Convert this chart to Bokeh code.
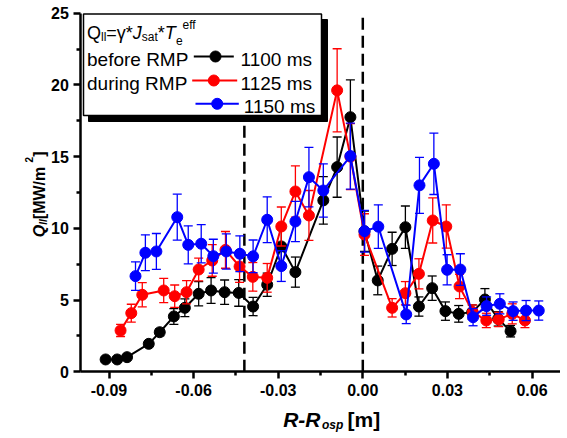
import math
from bokeh.plotting import figure
from bokeh.models import Label, FixedTicker, CustomJSTickFormatter
from bokeh.embed import file_html
from bokeh.resources import INLINE

# ---------------- data ----------------
black_x = [-0.0912, -0.0871, -0.0836, -0.0759, -0.0720, -0.0670, -0.0631, -0.0582, -0.0538, -0.0490,
           -0.0440, -0.0389, -0.0339, -0.0289, -0.0239, -0.0140, -0.0091, -0.0044, 0.0006, 0.0053,
           0.0104, 0.0151, 0.0199, 0.0246, 0.0293, 0.0340, 0.0388, 0.0433, 0.0480, 0.0524]
black_y = [0.86, 0.86, 1.02, 1.95, 2.76, 3.86, 4.46, 5.44, 5.67, 5.55,
           5.50, 4.55, 6.07, 8.74, 6.95, 11.95, 14.27, 17.75, 9.80, 6.37,
           8.57, 10.08, 4.55, 5.83, 4.23, 4.04, 4.16, 5.04, 3.69, 2.83]
black_err = [0.1, 0.1, 0.1, 0.2, 0.25, 0.55, 0.62, 0.85, 0.9, 0.85,
             0.93, 0.64, 0.81, 1.22, 1.05, 1.66, 2.1, 2.6, 1.4, 1.0,
             1.16, 1.48, 0.67, 0.85, 0.64, 0.58, 0.5, 0.76, 0.5, 0.4]

red_x = [-0.0859, -0.0821, -0.0782, -0.0706, -0.0667, -0.0625, -0.0582, -0.0534, -0.0487, -0.0437,
         -0.0390, -0.0339, -0.0289, -0.0239, -0.0191, -0.0091, -0.0044, 0.0006, 0.0104, 0.0151,
         0.0199, 0.0248, 0.0296, 0.0343, 0.0390, 0.0438, 0.0482, 0.0530, 0.0575]
red_y = [2.88, 4.09, 5.37, 5.67, 5.27, 5.55, 7.13, 7.76, 8.50, 7.34,
         6.62, 6.55, 10.13, 12.57, 10.90, 19.62, 15.00, 9.57, 4.46, 5.48,
         6.83, 10.55, 10.13, 5.95, 4.16, 3.58, 3.65, 4.04, 3.58]
red_err = [0.42, 0.62, 0.84, 0.85, 0.78, 0.81, 0.79, 1.1, 1.28, 1.1,
           1.0, 1.0, 1.36, 1.78, 1.74, 2.9, 2.3, 1.45, 0.64, 0.81,
           1.05, 1.57, 1.51, 0.85, 0.5, 0.5, 0.5, 0.7, 0.5]

blue_x = [-0.0806, -0.0771, -0.0732, -0.0658, -0.0619, -0.0573, -0.0530, -0.0484, -0.0436, -0.0389,
          -0.0339, -0.0289, -0.0239, -0.0191, -0.0140, -0.0044, 0.0006, 0.0055, 0.0154, 0.0201,
          0.0252, 0.0299, 0.0346, 0.0391, 0.0439, 0.0486, 0.0533, 0.0579, 0.0624]
blue_y = [6.67, 8.30, 8.39, 10.78, 8.85, 8.93, 8.06, 8.39, 8.23, 8.05,
          10.60, 7.37, 10.48, 13.57, 12.64, 15.04, 9.80, 10.12, 4.00, 13.00,
          14.50, 7.11, 7.13, 3.81, 4.58, 4.74, 4.23, 4.27, 4.27]
blue_err = [1.0, 1.25, 1.25, 1.6, 1.33, 1.33, 1.18, 1.23, 1.25, 1.14,
            1.6, 1.07, 1.4, 2.07, 1.86, 2.3, 1.45, 1.52, 0.64, 1.95,
            2.14, 1.05, 1.1, 0.6, 0.64, 0.7, 0.64, 0.7, 0.67]

dash_x = [-0.042, 0.0]

x_tick_values = [-0.09, -0.06, -0.03, 0.0, 0.03, 0.06]
x_tick_labels = ["-0.09", "-0.06", "-0.03", "0.00", "0.03", "0.06"]
x_minor = [-0.075, -0.045, -0.015, 0.015, 0.045]
y_tick_values = [0, 5, 10, 15, 20, 25]
y_tick_labels = ["0", "5", "10", "15", "20", "25"]
y_minor = [2.5, 7.5, 12.5, 17.5, 22.5]

series = [
    ("black", black_x, black_y, black_err, "before RMP", "1100 ms"),
    ("red", red_x, red_y, red_err, "during RMP", "1125 ms"),
    ("blue", blue_x, blue_y, blue_err, "", "1150 ms"),
]

# ---------------- geometry (page pixels) ----------------
W, H = 560, 433
X0, X1, Y0, Y1 = -0.1, 0.07, 0.0, 25.0      # axis extents
PX_X0, PX_PER_X = 362.3, 2820.0             # page x of x=0, pixels per unit
PX_Y0, PX_PER_Y = 371.3, 14.344             # page y of y=0, pixels per unit
FONT = "Liberation Sans"
BASE_FIX = 3.0                              # labels render slightly below their baseline


def dx(px):
    return (px - PX_X0) / PX_PER_X


def dy(py):
    return (PX_Y0 - py) / PX_PER_Y


p = figure(width=W, height=H, x_range=(dx(0), dx(W)), y_range=(dy(H), dy(0)),
           output_backend="svg", toolbar_location=None, min_border=0)
p.min_border_left = p.min_border_right = p.min_border_top = p.min_border_bottom = 0
p.title.visible = False
p.outline_line_color = None
p.xgrid.visible = False
p.ygrid.visible = False
p.background_fill_color = "white"
p.border_fill_color = "white"

p.xaxis[0].fixed_location = Y0
p.xaxis[0].bounds = (X0, X1)
p.yaxis[0].fixed_location = X0
p.yaxis[0].bounds = (Y0, Y1)

for ax, vals, labs, minor in ((p.xaxis[0], x_tick_values, x_tick_labels, x_minor),
                              (p.yaxis[0], y_tick_values, y_tick_labels, y_minor)):
    ax.ticker = FixedTicker(ticks=vals, minor_ticks=minor)
    ax.formatter = CustomJSTickFormatter(args=dict(tvals=vals, tlabs=labs), code="""
        for (let i = 0; i < tvals.length; i++) {
            if (Math.abs(tvals[i] - tick) < 1e-9) return tlabs[i];
        }
        return "";
    """)
    ax.axis_line_width = 2.5
    ax.axis_line_color = "black"
    ax.major_tick_line_width = 2.5
    ax.minor_tick_line_width = 2.5
    ax.major_tick_out = 7
    ax.major_tick_in = 0
    ax.minor_tick_out = 4
    ax.minor_tick_in = 0
    ax.major_label_text_font = FONT
    ax.major_label_text_font_style = "bold"
    ax.major_label_text_font_size = "16px"
    ax.major_label_text_color = "black"
    ax.major_label_standoff = 5

# dashed separatrix lines
p.segment(x0=dash_x, y0=[Y0] * len(dash_x), x1=dash_x, y1=[Y1] * len(dash_x),
          line_color="black", line_width=2.5, line_dash="12 6")

# legend box with drop shadow
p.quad(left=[dx(88)], right=[dx(327)], top=[dy(19)], bottom=[dy(121)],
       fill_color="black", line_color="black")
p.quad(left=[dx(83)], right=[dx(321)], top=[dy(13.5)], bottom=[dy(115)],
       fill_color="white", line_color="black", line_width=1.5)

# data series
for color, xs, ys, es, _, _ in series:
    up = [y + e for y, e in zip(ys, es)]
    lo = [y - e for y, e in zip(ys, es)]
    p.segment(x0=xs, y0=lo, x1=xs, y1=up, line_color=color, line_width=1.3)
    p.scatter(xs, up, marker="dash", size=9, line_color=color, line_width=1.3)
    p.scatter(xs, lo, marker="dash", size=9, line_color=color, line_width=1.3)
    p.line(xs, ys, line_color=color, line_width=2)
    p.scatter(xs, ys, marker="circle", size=11, fill_color=color, line_color=color)


def lab(text, px, py, size, style="normal", angle=0.0):
    if angle:
        px -= BASE_FIX
    else:
        py -= BASE_FIX
    p.add_layout(Label(x=dx(px), y=dy(py), text=text, text_font=FONT,
                       text_font_size=f"{size}px", text_font_style=style,
                       text_color="black", text_align="left",
                       text_baseline="alphabetic", angle=angle))


# legend formula line
lab("Q", 86.5, 35, 18)
lab("ll", 100.5, 39.5, 12)
lab("=\u03b3*", 105.8, 35, 18)
lab("J", 132.3, 35, 18, "italic")
lab("sat", 141.3, 39.5, 12)
lab("*", 157.3, 35, 18)
lab("T", 164.3, 35, 18, "italic")
lab("e", 175.5, 42.5, 12)
lab("eff", 182, 27.5, 12)

# legend entries
rows = [(62.0, 56.0, 193.3, 233.3, 215.0, 240.0),
        (85.5, 80.0, 191.7, 236.7, 213.3, 240.0),
        (109.0, 103.3, 195.0, 238.3, 216.7, 243.3)]
for (color, _, _, _, left_txt, right_txt), (base, ly, x0, x1, mx, tx) in zip(series, rows):
    if left_txt:
        lab(left_txt, 86.5, base, 19)
    p.line([dx(x0), dx(x1)], [dy(ly), dy(ly)], line_color=color, line_width=2)
    p.scatter([dx(mx)], [dy(ly)], marker="circle", size=11, fill_color=color, line_color=color)
    lab(right_txt, tx, base, 19)

# x axis title: R-R_osp [m]
lab("R-R", 282.7, 421.5, 21, "bold italic")
lab("osp", 321.5, 427.0, 12, "bold italic")
lab("[m]", 347.0, 421.5, 21, "bold")

# y axis title: Q_ll [MW/m^2] (rotated)
A = math.pi / 2
lab("Q", 42, 236.7, 16, "bold italic", A)
lab("ll", 45.5, 224.3, 10, "bold italic", A)
lab(" [MW/m", 42, 218.7, 16, "bold", A)
lab("2", 31, 161.9, 10, "bold", A)
lab("]", 42, 156.3, 16, "bold", A)

open("out.html", "w").write(file_html(p, INLINE))
